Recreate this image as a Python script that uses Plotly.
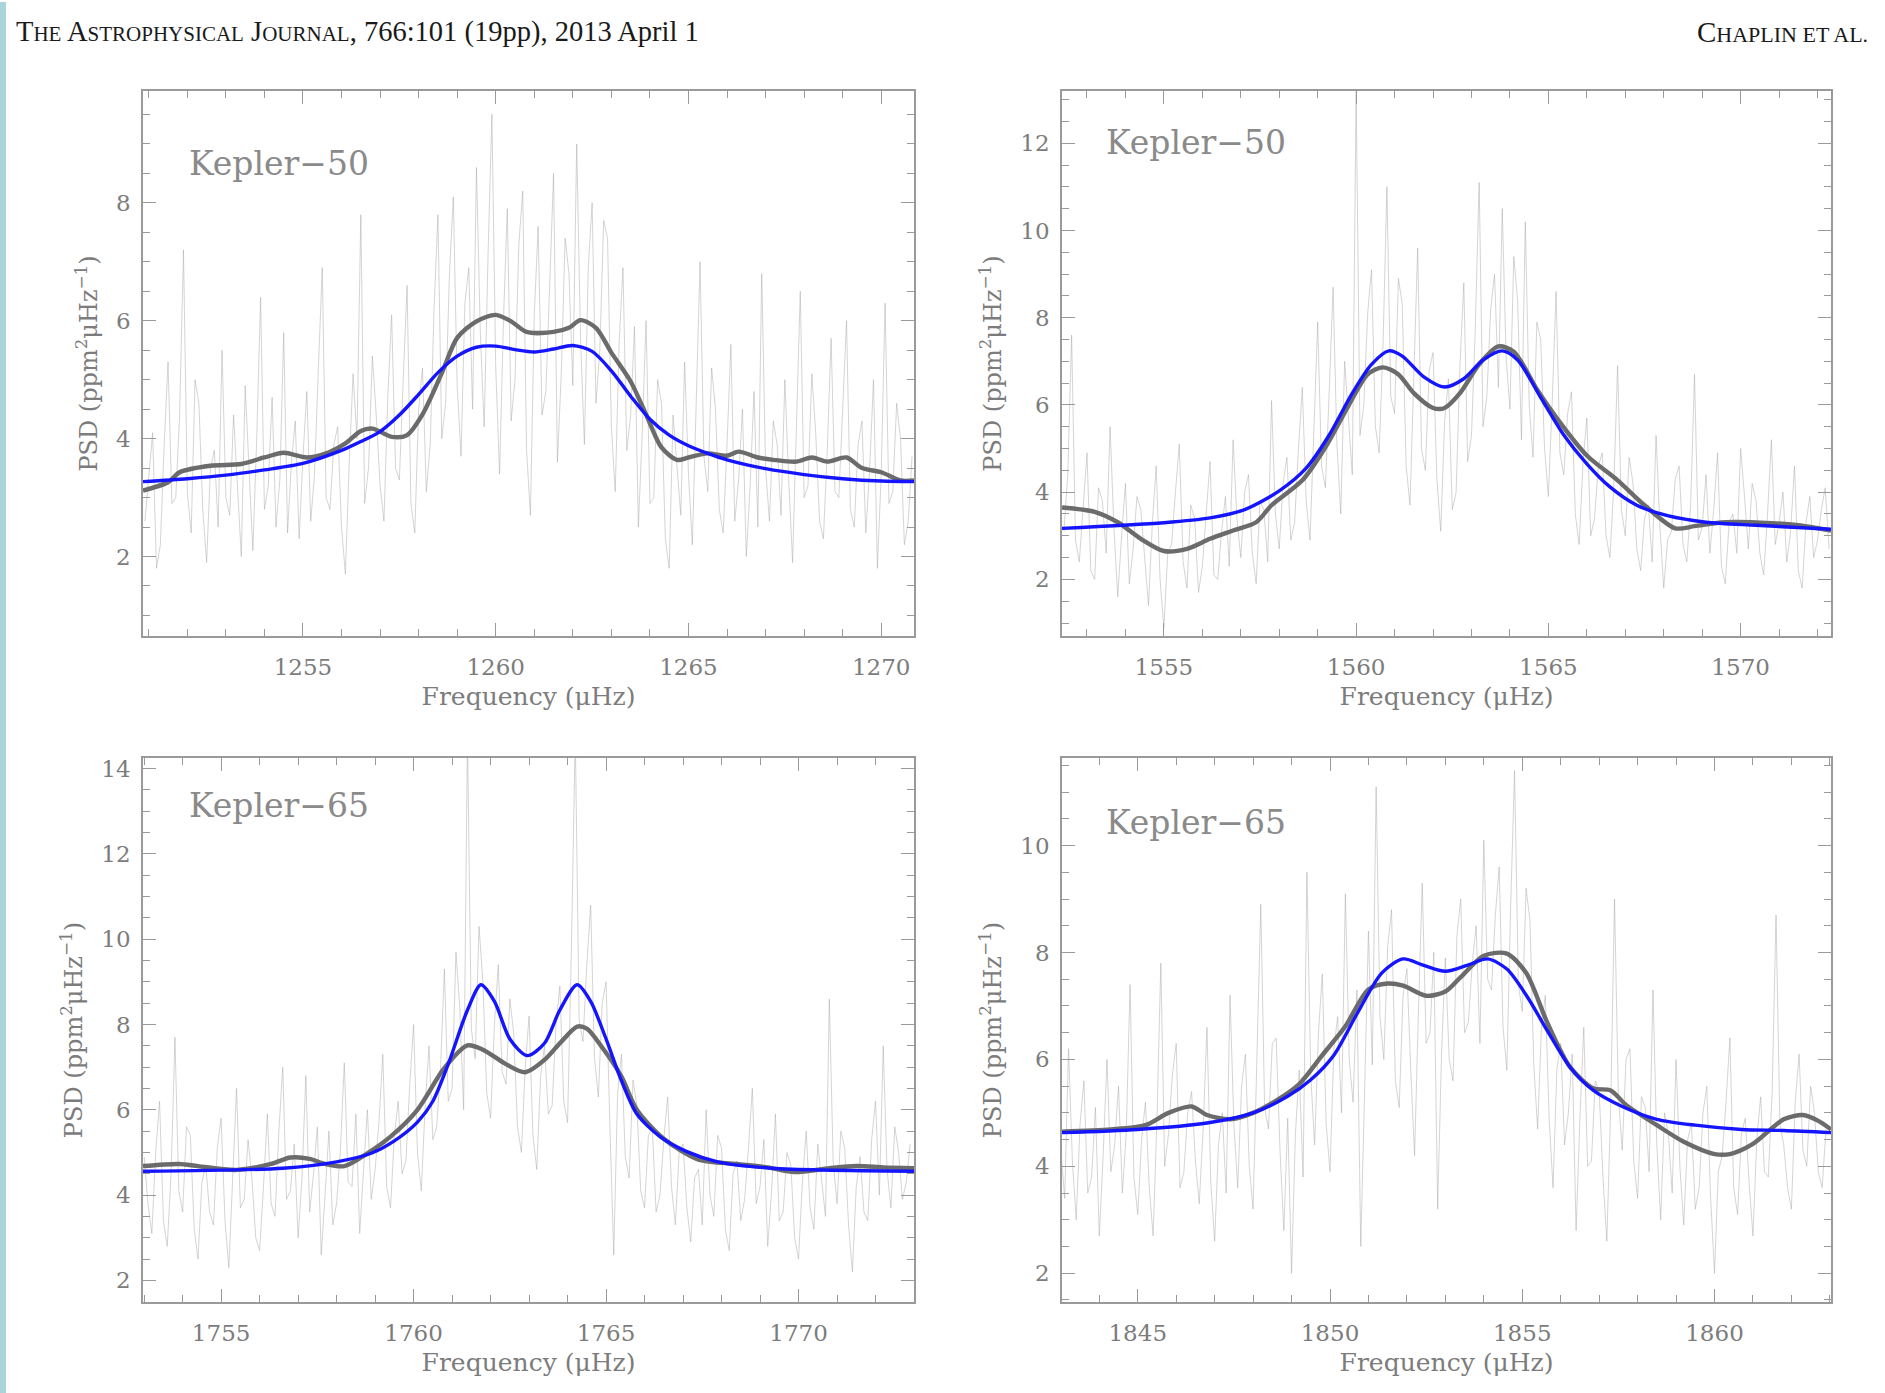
import plotly.graph_objects as go

W, H = 1885, 1393

# ---------------- Panel 1: Kepler-50, ~1260 muHz ----------------
p1_label = "Kepler\u221250"
p1_noise_start = 1250.9
p1_noise_step = 0.1
p1_noise = [2.6, 3.4, 4.1, 1.8, 2.2, 3.9, 5.3, 2.9, 3.0, 4.4, 7.2, 3.1, 2.4, 5.0, 4.6, 2.8, 1.9, 3.5, 3.8, 2.5,
            5.5, 3.0, 2.7, 4.4, 3.3, 2.0, 4.9, 3.6, 2.1, 4.0, 6.4, 2.8, 3.2, 4.7, 2.5, 3.3, 5.8, 2.4, 3.6, 4.3,
            2.3, 3.7, 4.8, 2.6, 3.4, 5.2, 6.9, 3.0, 2.8, 3.9, 4.2, 2.5, 1.7, 3.6, 5.1, 4.0, 7.8, 2.9, 3.5, 5.4,
            4.4, 3.2, 2.6, 4.7, 6.1, 3.5, 3.3, 5.0, 6.6, 2.9, 2.4, 4.5, 5.2, 3.1, 3.9, 6.2, 7.8, 4.0, 4.6, 6.8,
            8.1, 4.9, 3.7, 6.3, 6.9, 4.5, 8.6, 5.8, 4.2, 7.1, 9.5, 5.2, 3.4, 6.0, 7.9, 4.3, 5.0, 7.3, 8.2, 3.8,
            2.7, 6.1, 7.6, 4.4, 4.8, 6.6, 8.5, 3.6, 5.1, 7.4, 6.8, 4.9, 9.0, 5.7, 3.9, 6.9, 8.0, 4.6, 5.5, 7.7,
            7.4, 4.2, 3.1, 5.6, 6.9, 3.8, 4.4, 5.9, 2.5, 4.1, 6.0, 2.9, 3.0, 5.0, 4.6, 2.3, 1.8, 4.4, 3.6, 2.7,
            5.3, 3.4, 2.2, 4.6, 7.0, 3.7, 3.1, 5.2, 4.5, 2.8, 2.4, 3.9, 5.6, 2.6, 3.3, 4.5, 2.0, 3.2, 4.8, 2.5,
            6.8, 3.5, 2.6, 4.3, 3.9, 2.7, 5.0, 3.3, 1.9, 4.2, 6.5, 3.0, 3.2, 5.1, 4.1, 2.6, 2.3, 3.8, 5.7, 3.1,
            3.0, 4.5, 6.0, 2.8, 2.5, 3.9, 4.3, 2.4, 3.5, 5.0, 1.8, 3.4, 6.3, 2.9, 3.1, 4.6, 4.0, 2.2, 2.6, 3.7]
p1_smooth_f = [1250.85, 1251.5, 1251.8, 1252.6, 1253.4, 1254.0, 1254.5, 1255.1, 1255.6, 1256.1,
               1256.5, 1256.8, 1257.3, 1257.7, 1258.1, 1258.6, 1259.0, 1259.5, 1260.0, 1260.4,
               1260.8, 1261.5, 1261.9, 1262.2, 1262.6, 1263.0, 1263.5, 1263.9, 1264.3, 1264.7,
               1265.0, 1265.5, 1266.0, 1266.3, 1266.8, 1267.2, 1267.8, 1268.2, 1268.6, 1269.1,
               1269.5, 1270.0, 1270.5, 1270.85]
p1_smooth_psd = [3.12, 3.26, 3.43, 3.54, 3.57, 3.68, 3.76, 3.68, 3.75, 3.92,
                 4.13, 4.17, 4.03, 4.06, 4.41, 5.11, 5.71, 5.99, 6.10, 5.99,
                 5.81, 5.81, 5.88, 6.01, 5.88, 5.46, 4.97, 4.41, 3.85, 3.64,
                 3.68, 3.75, 3.71, 3.78, 3.68, 3.64, 3.61, 3.68, 3.61, 3.68,
                 3.50, 3.43, 3.29, 3.29]
p1_fit_f = [1250.85, 1252, 1253, 1254, 1255, 1256, 1256.5, 1257, 1257.5, 1258,
            1258.5, 1259, 1259.5, 1260, 1260.5, 1261, 1261.5, 1262, 1262.5, 1263,
            1263.5, 1264, 1264.5, 1265, 1265.5, 1266, 1267, 1268, 1269, 1270, 1270.85]
p1_fit_psd = [3.27, 3.32, 3.38, 3.47, 3.58, 3.80, 3.95, 4.12, 4.40, 4.75,
              5.12, 5.40, 5.55, 5.57, 5.51, 5.47, 5.52, 5.58, 5.48, 5.15,
              4.72, 4.33, 4.06, 3.88, 3.75, 3.64, 3.49, 3.39, 3.32, 3.28, 3.27]
p1_xrange = [1250.85, 1270.85]
p1_yrange = [0.65, 9.9]
p1_xticks = [1255, 1260, 1265, 1270]
p1_yticks = [2, 4, 6, 8]

# ---------------- Panel 2: Kepler-50, ~1562 muHz ----------------
p2_label = "Kepler\u221250"
p2_noise_start = 1552.4
p2_noise_step = 0.1
p2_noise = [3.1, 4.4, 7.6, 2.9, 2.4, 3.6, 4.9, 2.2, 2.0, 4.1, 3.8, 2.6, 5.5, 3.2, 1.6, 3.0, 4.2, 1.9, 2.7, 3.9,
            3.6, 2.5, 1.4, 3.3, 4.6, 2.0, 0.9, 2.6, 2.8, 4.0, 5.1, 2.4, 1.8, 3.7, 3.4, 1.7, 2.3, 3.5, 4.7, 2.1,
            2.0, 3.1, 3.9, 2.3, 5.2, 3.4, 2.5, 4.0, 4.4, 2.6, 1.9, 3.8, 3.6, 2.4, 6.1, 3.5, 2.7, 4.2, 4.8, 2.9,
            3.3, 5.0, 6.4, 3.8, 2.9, 5.4, 7.9, 4.6, 4.1, 6.3, 8.7, 5.1, 3.5, 7.0, 5.6, 4.4, 13.2, 5.3, 6.0, 8.1,
            9.1, 5.5, 4.9, 7.4, 11.0, 6.2, 5.8, 8.9, 8.3, 4.6, 3.7, 6.5, 9.6, 5.0, 4.5, 6.8, 7.2, 4.3, 3.1, 5.6,
            6.6, 3.6, 4.0, 6.9, 8.8, 4.7, 5.3, 7.8, 11.1, 5.5, 6.2, 8.2, 9.0, 6.4, 10.5, 7.1, 5.9, 9.4, 8.4, 5.2,
            10.2, 6.0, 4.8, 7.9, 7.5, 5.0, 3.9, 6.1, 8.6, 4.9, 4.4, 5.8, 6.3, 3.5, 2.8, 4.7, 5.7, 3.0, 3.4, 4.6,
            4.9, 3.0, 2.5, 4.1, 6.9, 3.6, 3.0, 4.8, 4.2, 2.7, 2.2, 3.4, 3.7, 2.4, 5.3, 3.2, 1.8, 2.9, 3.1, 4.3,
            4.6, 2.8, 2.4, 3.7, 6.7, 2.9, 3.2, 4.4, 2.6, 3.6, 4.9, 2.3, 1.9, 3.3, 3.5, 2.6, 5.0, 3.9, 2.7, 4.2,
            3.8, 2.6, 2.1, 3.5, 5.2, 2.8, 3.3, 4.0, 2.4, 3.1, 4.6, 2.2, 1.8, 3.3, 3.9, 2.5, 2.9, 3.6, 4.1, 2.7]
p2_smooth_f = [1552.35, 1553.2, 1553.8, 1554.4, 1555.0, 1555.6, 1556.2, 1556.8, 1557.4, 1557.8,
               1558.6, 1559.2, 1559.8, 1560.3, 1560.7, 1561.1, 1561.5, 1562.0, 1562.3, 1562.7,
               1563.2, 1563.7, 1564.1, 1564.7, 1565.3, 1566.0, 1566.8, 1567.5, 1568.3, 1568.8,
               1569.6, 1570.8, 1571.5, 1572.35]
p2_smooth_psd = [3.65, 3.55, 3.31, 2.93, 2.65, 2.70, 2.93, 3.12, 3.31, 3.70,
                 4.27, 5.03, 5.98, 6.70, 6.86, 6.70, 6.27, 5.93, 5.93, 6.27,
                 6.93, 7.34, 7.22, 6.36, 5.60, 4.84, 4.27, 3.70, 3.17, 3.22,
                 3.31, 3.29, 3.24, 3.12]
p2_fit_f = [1552.35, 1555.0, 1556.2, 1557.1, 1558.0, 1558.7, 1559.3, 1559.9, 1560.4, 1560.85,
            1561.2, 1561.75, 1562.3, 1562.8, 1563.3, 1563.8, 1564.2, 1564.8, 1565.4, 1566.0,
            1566.6, 1567.3, 1568.1, 1569.1, 1570.4, 1572.35]
p2_fit_psd = [3.17, 3.30, 3.41, 3.60, 4.03, 4.55, 5.31, 6.27, 6.93, 7.24,
              7.12, 6.65, 6.41, 6.60, 7.03, 7.24, 7.03, 6.17, 5.31, 4.65,
              4.12, 3.70, 3.46, 3.31, 3.24, 3.15]
p2_xrange = [1552.35, 1572.35]
p2_yrange = [0.7, 13.2]
p2_xticks = [1555, 1560, 1565, 1570]
p2_yticks = [2, 4, 6, 8, 10, 12]

# ---------------- Panel 3: Kepler-65, ~1763 muHz ----------------
p3_label = "Kepler\u221265"
p3_noise_start = 1753.0
p3_noise_step = 0.1
p3_noise = [4.9, 3.8, 3.1, 5.0, 6.2, 3.4, 2.8, 4.5, 7.7, 4.1, 3.6, 5.6, 5.4, 3.2, 2.5, 4.3, 4.7, 3.6, 3.3, 5.1,
            5.8, 3.4, 2.3, 4.6, 6.5, 3.7, 3.9, 5.3, 4.4, 3.0, 2.7, 4.2, 5.9, 3.8, 3.5, 5.5, 7.0, 3.9, 4.1, 5.2,
            3.0, 4.4, 6.8, 3.6, 4.5, 5.6, 2.6, 4.0, 5.5, 3.3, 3.8, 5.1, 7.1, 4.3, 4.2, 5.9, 3.1, 4.6, 6.0, 3.9,
            4.6, 5.7, 7.3, 4.2, 3.7, 5.4, 6.2, 4.5, 4.8, 6.6, 8.0, 5.0, 4.1, 6.1, 7.5, 5.3, 5.6, 7.0, 9.3, 6.2,
            6.5, 9.7, 8.4, 6.0, 14.8, 7.9, 7.2, 10.3, 9.0, 6.4, 5.8, 8.0, 9.4, 6.9, 6.6, 8.6, 7.8, 5.6, 5.0, 7.0,
            8.2, 5.4, 4.6, 6.8, 7.5, 5.9, 6.1, 8.0, 8.9, 6.2, 5.7, 9.8, 14.8, 8.1, 7.6, 9.4, 10.8, 7.2, 6.3, 8.5,
            9.0, 5.6, 2.6, 6.4, 7.3, 4.9, 4.4, 6.7, 6.1, 4.1, 3.7, 5.4, 5.6, 3.6, 4.0, 5.3, 6.3, 4.2, 3.3, 5.0,
            5.2, 3.7, 2.9, 4.4, 4.6, 3.3, 6.0, 4.0, 3.5, 5.4, 5.1, 3.2, 2.7, 4.5, 4.8, 3.4, 3.9, 5.1, 6.5, 3.8,
            4.2, 5.3, 2.8, 4.1, 5.9, 3.4, 3.6, 5.0, 4.7, 3.0, 2.5, 4.3, 5.5, 3.7, 3.2, 5.2, 4.4, 3.5, 8.6, 4.8,
            3.8, 5.5, 5.1, 3.3, 2.2, 4.2, 4.9, 3.6, 3.4, 5.3, 6.2, 4.0, 7.5, 4.6, 3.7, 5.6, 5.0, 3.9, 4.3, 5.2]
p3_smooth_f = [1752.97, 1753.9, 1754.4, 1755.4, 1756.3, 1756.8, 1757.3, 1757.7, 1758.2, 1758.8,
               1759.4, 1760.1, 1760.8, 1761.4, 1761.8, 1762.4, 1762.9, 1763.4, 1763.8, 1764.25,
               1764.5, 1764.9, 1765.4, 1765.8, 1766.5, 1767.4, 1768.4, 1769.2, 1769.9, 1770.8,
               1771.5, 1772.2, 1773.0]
p3_smooth_psd = [4.68, 4.73, 4.68, 4.59, 4.73, 4.88, 4.85, 4.73, 4.68, 4.98,
                 5.37, 6.00, 6.98, 7.51, 7.41, 7.07, 6.88, 7.17, 7.56, 7.95,
                 7.90, 7.46, 6.78, 6.00, 5.32, 4.83, 4.73, 4.65, 4.54, 4.63,
                 4.68, 4.65, 4.63]
p3_fit_f = [1752.97, 1756.6, 1758.0, 1758.9, 1759.5, 1760.1, 1760.5, 1760.9, 1761.4, 1761.75,
            1762.1, 1762.5, 1762.95, 1763.4, 1763.8, 1764.25, 1764.6, 1765.0, 1765.4, 1765.8,
            1766.4, 1767.1, 1767.9, 1769.3, 1773.0]
p3_fit_psd = [4.56, 4.63, 4.78, 4.98, 5.27, 5.71, 6.20, 7.07, 8.34, 8.93,
              8.54, 7.66, 7.27, 7.56, 8.34, 8.93, 8.54, 7.66, 6.68, 5.90,
              5.37, 5.02, 4.78, 4.63, 4.56]
p3_xrange = [1752.97, 1773.0]
p3_yrange = [1.49, 14.25]
p3_xticks = [1755, 1760, 1765, 1770]
p3_yticks = [2, 4, 6, 8, 10, 12, 14]

# ---------------- Panel 4: Kepler-65, ~1853 muHz ----------------
p4_label = "Kepler\u221265"
p4_noise_start = 1843.0
p4_noise_step = 0.1
p4_noise = [4.3, 3.4, 6.2, 4.1, 3.0, 4.8, 5.6, 3.5, 3.8, 5.1, 2.7, 4.2, 6.0, 3.9, 4.4, 5.5, 3.5, 4.6, 7.4, 3.8,
            3.1, 4.5, 5.2, 3.6, 2.7, 4.9, 7.8, 4.0, 4.6, 5.7, 6.3, 3.6, 3.9, 5.0, 5.4, 4.1, 3.3, 4.7, 6.6, 3.7,
            2.6, 4.4, 5.0, 3.5, 7.2, 4.8, 3.6, 5.5, 6.1, 4.0, 3.2, 5.9, 8.9, 5.1, 4.7, 6.3, 6.4, 4.3, 2.8, 4.9,
            2.0, 4.6, 5.8, 3.8, 9.5, 5.7, 4.4, 6.5, 7.6, 4.8, 3.9, 6.2, 6.8, 5.0, 9.1, 6.0, 5.2, 7.3, 2.5, 5.4,
            8.4, 5.9, 11.1, 6.8, 6.0, 8.1, 8.8, 5.6, 5.1, 7.2, 7.7, 5.8, 4.2, 6.9, 9.3, 6.3, 6.5, 8.0, 3.2, 6.1,
            7.9, 6.0, 5.6, 8.3, 9.0, 6.5, 6.7, 7.8, 8.5, 6.3, 10.1, 7.5, 7.3, 8.7, 9.6, 6.6, 5.8, 8.9, 11.4, 7.4,
            6.9, 9.2, 8.6, 5.9, 4.7, 6.6, 7.2, 4.9, 3.6, 5.8, 6.3, 4.4, 5.0, 6.1, 2.8, 4.9, 6.6, 4.0, 4.1, 5.6,
            5.4, 3.8, 2.6, 5.1, 9.0, 5.3, 4.3, 6.0, 6.2, 4.1, 3.4, 5.3, 5.1, 3.9, 7.3, 4.4, 3.0, 5.0, 4.6, 3.5,
            6.0, 4.0, 2.9, 4.5, 4.8, 3.2, 3.6, 5.0, 5.5, 3.4, 2.0, 3.9, 4.2, 5.2, 6.4, 3.6, 3.1, 4.6, 4.9, 3.7,
            2.7, 4.5, 5.3, 3.9, 3.8, 5.4, 8.7, 4.8, 4.4, 3.6, 3.2, 5.2, 6.1, 4.3, 4.0, 5.5, 5.0, 3.9, 3.6, 4.7]
p4_smooth_f = [1843.03, 1844.3, 1845.2, 1845.8, 1846.4, 1846.8, 1847.4, 1848.0, 1848.6, 1849.2,
               1849.8, 1850.4, 1851.0, 1851.5, 1851.9, 1852.5, 1853.0, 1853.4, 1854.0, 1854.6,
               1855.1, 1855.65, 1856.25, 1856.85, 1857.3, 1857.7, 1858.5, 1859.2, 1860.0, 1860.4,
               1861.0, 1861.8, 1862.3, 1862.7, 1863.03]
p4_smooth_psd = [4.65, 4.69, 4.77, 5.00, 5.12, 4.96, 4.88, 5.00, 5.23, 5.54,
                 6.08, 6.62, 7.31, 7.42, 7.38, 7.19, 7.27, 7.54, 7.94, 7.98,
                 7.62, 6.69, 5.85, 5.46, 5.42, 5.15, 4.77, 4.46, 4.23, 4.23,
                 4.42, 4.88, 4.96, 4.85, 4.69]
p4_fit_f = [1843.03, 1845.0, 1846.8, 1848.0, 1848.9, 1849.5, 1850.1, 1850.7, 1851.35, 1851.9,
            1852.4, 1853.0, 1853.6, 1854.1, 1854.6, 1855.15, 1855.65, 1856.25, 1856.85, 1857.6,
            1858.5, 1859.5, 1860.7, 1861.8, 1863.03]
p4_fit_psd = [4.63, 4.69, 4.81, 5.00, 5.31, 5.62, 6.08, 6.85, 7.62, 7.88,
              7.77, 7.65, 7.77, 7.88, 7.69, 7.15, 6.54, 5.85, 5.42, 5.12,
              4.88, 4.77, 4.69, 4.67, 4.63]
p4_xrange = [1843.03, 1863.03]
p4_yrange = [1.46, 11.64]
p4_xticks = [1845, 1850, 1855, 1860]
p4_yticks = [2, 4, 6, 8, 10]

# ---------------- styling ----------------
AX_COLOR = "#9a9a9a"
TXT_COLOR = "#7c7c7c"
FONT = "DejaVu Serif"
NOISE_COLOR = "rgba(170,170,170,0.5)"
SMOOTH_COLOR = "#6b6b6b"
FIT_COLOR = "#1414ff"

X_DOM = {"L": [143 / W, 914 / W], "R": [1062 / W, 1831 / W]}
Y_DOM = {"T": [1 - 635 / H, 1 - 89 / H], "B": [1 - 1302 / H, 1 - 757 / H]}

panels = [
    (p1_label, p1_noise_start, p1_noise_step, p1_noise, p1_smooth_f, p1_smooth_psd,
     p1_fit_f, p1_fit_psd, p1_xrange, p1_yrange, p1_xticks, p1_yticks, "L", "T", (0.057, 0.866)),
    (p2_label, p2_noise_start, p2_noise_step, p2_noise, p2_smooth_f, p2_smooth_psd,
     p2_fit_f, p2_fit_psd, p2_xrange, p2_yrange, p2_xticks, p2_yticks, "R", "T", (0.054, 0.905)),
    (p3_label, p3_noise_start, p3_noise_step, p3_noise, p3_smooth_f, p3_smooth_psd,
     p3_fit_f, p3_fit_psd, p3_xrange, p3_yrange, p3_xticks, p3_yticks, "L", "B", (0.057, 0.912)),
    (p4_label, p4_noise_start, p4_noise_step, p4_noise, p4_smooth_f, p4_smooth_psd,
     p4_fit_f, p4_fit_psd, p4_xrange, p4_yrange, p4_xticks, p4_yticks, "R", "B", (0.054, 0.881)),
]

fig = go.Figure()
layout = dict(
    width=W, height=H, margin=dict(l=0, r=0, t=0, b=0),
    paper_bgcolor="white", plot_bgcolor="white", showlegend=False,
    annotations=[], shapes=[],
)

for i, (label, n0, dn, noise, sf, sp, ff, fp, xr, yr, xt, yt, xd, yd, lpos) in enumerate(panels):
    k = "" if i == 0 else str(i + 1)
    xa, ya = "x" + k, "y" + k
    noise_f = [n0 + dn * j for j in range(len(noise))]
    fig.add_trace(go.Scatter(x=noise_f, y=noise, xaxis=xa, yaxis=ya, mode="lines",
                             line=dict(color=NOISE_COLOR, width=1.0), hoverinfo="skip"))
    fig.add_trace(go.Scatter(x=sf, y=sp, xaxis=xa, yaxis=ya, mode="lines",
                             line=dict(color=SMOOTH_COLOR, width=4.4, shape="spline", smoothing=0.8)))
    fig.add_trace(go.Scatter(x=ff, y=fp, xaxis=xa, yaxis=ya, mode="lines",
                             line=dict(color=FIT_COLOR, width=3.4, shape="spline", smoothing=0.8)))
    common = dict(showline=True, linecolor=AX_COLOR, linewidth=1.5, mirror="allticks",
                  ticks="inside", ticklen=13, tickwidth=1.3, tickcolor=AX_COLOR,
                  showgrid=False, zeroline=False,
                  tickfont=dict(family=FONT, size=23, color=TXT_COLOR))
    layout["xaxis" + k] = dict(common, domain=X_DOM[xd], range=xr, anchor=ya,
                               tickvals=xt, ticktext=[str(v) for v in xt],
                               ticklabelstandoff=10,
                               minor=dict(dtick=1, tick0=xt[0], ticks="inside", ticklen=7,
                                          tickwidth=1.1, tickcolor=AX_COLOR, showgrid=False),
                               title=dict(text="Frequency (\u03bcHz)", standoff=8,
                                          font=dict(family=FONT, size=25, color=TXT_COLOR)))
    layout["yaxis" + k] = dict(common, domain=Y_DOM[yd], range=yr, anchor=xa,
                               tickvals=yt, ticktext=[str(v) for v in yt],
                               ticklabelstandoff=6,
                               minor=dict(dtick=0.5, tick0=0, ticks="inside", ticklen=7,
                                          tickwidth=1.1, tickcolor=AX_COLOR, showgrid=False),
                               title=dict(text="PSD (ppm<sup>2</sup>\u03bcHz<sup>\u22121</sup>)", standoff=12,
                                          font=dict(family=FONT, size=24, color=TXT_COLOR)))
    layout["annotations"].append(dict(
        text=label, xref=xa + " domain", yref=ya + " domain", x=lpos[0], y=lpos[1],
        xanchor="left", yanchor="middle", showarrow=False,
        font=dict(family=FONT, size=33, color="#8a8a8a")))

# page header
layout["annotations"].append(dict(
    text="T<span style='font-size:21px'>HE</span> A<span style='font-size:21px'>STROPHYSICAL</span> "
         "J<span style='font-size:21px'>OURNAL</span>, 766:101 (19pp), 2013 April 1",
    xref="paper", yref="paper", x=14 / W, y=1 - 30 / H, xanchor="left", yanchor="middle",
    showarrow=False, font=dict(family="Liberation Serif", size=28.5, color="#1a1a1a")))
layout["annotations"].append(dict(
    text="C<span style='font-size:22px'>HAPLIN ET AL.</span>",
    xref="paper", yref="paper", x=1870 / W, y=1 - 30 / H, xanchor="right", yanchor="middle",
    showarrow=False, font=dict(family="Liberation Serif", size=29, color="#1a1a1a")))

# teal page-edge strip
layout["shapes"].append(dict(type="rect", xref="paper", yref="paper", x0=0, x1=6 / W, y0=0, y1=1,
                             fillcolor="#a9d5d9", line=dict(width=0), layer="below"))

fig.update_layout(**layout)
fig.write_html("out.html",
               config={"displayModeBar": False},
               post_script="document.body.style.margin='0';document.body.style.padding='0';"
                           "document.body.style.overflow='hidden';")
